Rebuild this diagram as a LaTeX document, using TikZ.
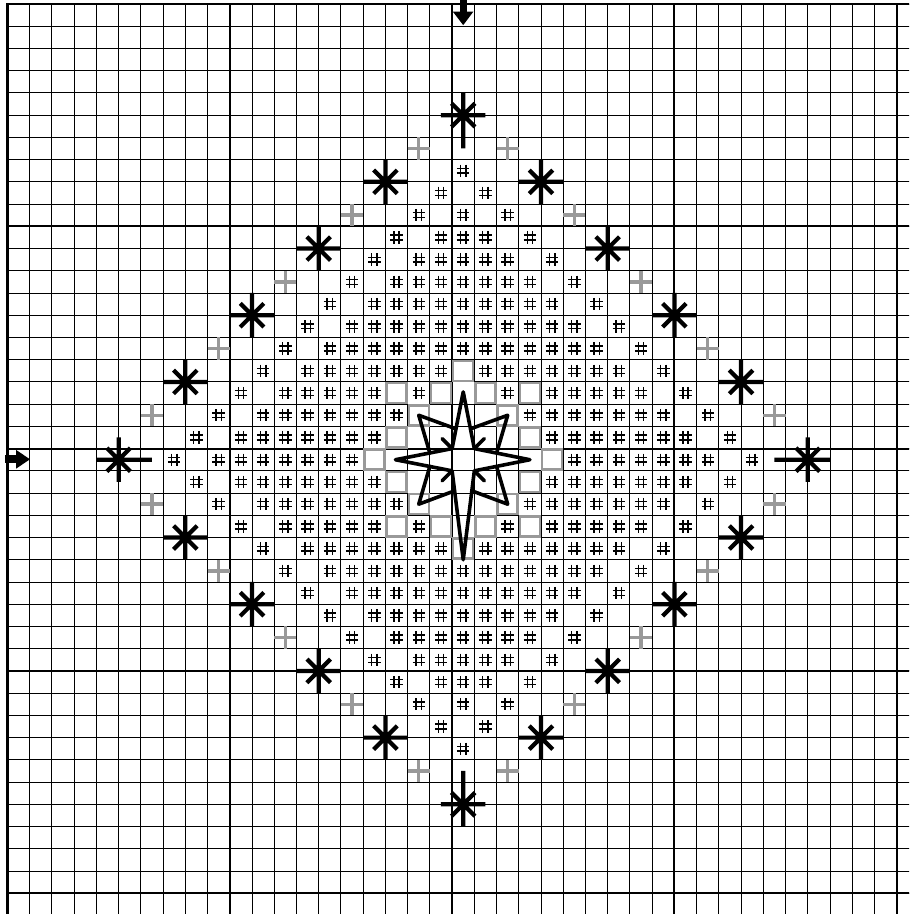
\documentclass[tikz,border=0pt]{standalone}
\usepackage{tikz}

\tikzset{
  thin grid/.style={line width=0.6pt},
  thick grid/.style={line width=1.3pt},
  graybox/.style={gray!80, line width=1.6pt},
  hashcell/.pic={
    \draw[line width=0.9pt] (-0.12,-0.28) -- (-0.12,0.28) (0.12,-0.28) -- (0.12,0.28)
      (-0.28,-0.11) -- (0.28,-0.11) (-0.28,0.11) -- (0.28,0.11);
  },
  halfcross/.pic={
    \draw[gray!80, line width=2.2pt] (-0.5,0) -- (0.5,0) (0,-0.5) -- (0,0.5);
  },
  smyrna/.pic={
    \draw[line width=2.7pt] (-1,0) -- (1,0) (0,-1) -- (0,1)
      (-0.53,-0.53) -- (0.53,0.53) (-0.53,0.53) -- (0.53,-0.53);
  },
  tipsmyrna/.pic={
    \draw[line width=2.7pt] (-1,0) -- (1,0) (0,-1) -- (0,1.5)
      (-0.53,-0.53) -- (0.53,0.53) (-0.53,0.53) -- (0.53,-0.53);
  },
}

\begin{document}
\begin{tikzpicture}[x=0.5cm, y=-0.5cm]
\useasboundingbox (-0.337,-0.18) rectangle (40.554,40.935);
\clip (-0.337,-0.18) rectangle (40.554,40.935);

% Grid
\foreach \i in {0,...,41} {
  \draw[thin grid] (\i,0) -- (\i,41.5);
  \draw[thin grid] (0,\i) -- (41.5,\i);
}
\foreach \i in {10,20,30,40} {
  \draw[thick grid] (\i,0) -- (\i,41.5);
  \draw[thick grid] (0,\i) -- (41.5,\i);
}
\draw[line width=1.9pt] (0,41.5) -- (0,0) -- (41.5,0);

% Centre arrows
\fill (20.36,-0.3) rectangle (20.67,0.36);
\fill (20.03,0.34) -- (20.96,0.34) -- (20.5,0.95) -- cycle;
\fill (-0.1,20.3) rectangle (0.42,20.65);
\fill (0.39,20.06) -- (0.39,20.9) -- (1.01,20.48) -- cycle;

% Hash stitches
\foreach \c in {7,...,33}
  \foreach \r in {7,...,33} {
    \pgfmathtruncatemacro{\d}{abs(\c-20)+abs(\r-20)}
    \pgfmathtruncatemacro{\h}{(\d==13)||((\d>4)&&(\d<12)&&not((abs(\c-20)==3)&&(abs(\r-20)==3)))}
    \ifnum\h=1 \pic at (\c+0.5,\r+0.5) {hashcell}; \fi
  }

% Gray cells round the star
\foreach \c/\r in {20/16,19/17,18/18,17/19,16/20,21/17,22/18,23/19,24/20,23/21,
                   22/22,21/23,20/24,19/23,18/22,17/21,17/17,23/17,17/23,23/23}
  \draw[graybox] (\c+0.05,\r+0.05) rectangle (\c+0.95,\r+0.95);

% Gray crosses on the diamond
\foreach \a/\b in {2/14,5/11,8/8,11/5,14/2}
  \foreach \sx in {-1,1}
    \foreach \sy in {-1,1}
      \pic at (20.5+\sx*\a,20.5+\sy*\b) {halfcross};

% Black star stitches
\foreach \a/\b in {3.5/12.5,6.5/9.5,9.5/6.5,12.5/3.5}
  \foreach \sx in {-1,1}
    \foreach \sy in {-1,1}
      \pic at (20.5+\sx*\a,20.5+\sy*\b) {smyrna};
\foreach \px/\py/\ang in {20.5/5/0,36/20.5/-90,20.5/36/180,5/20.5/90}
  \pic[rotate=\ang] at (\px,\py) {tipsmyrna};

% Star
\begin{scope}[shift={(20.5,20.5)}, line width=2.3pt, line join=round, line cap=round]
  \draw (0,-3.05) -- (-0.5,-0.5) -- (-3.05,0) -- (-0.5,0.5) -- (0,4.5)
    -- (0.5,0.5) -- (3.0,0) -- (0.5,-0.5) -- cycle;
  \draw (-0.33,-1.39) -- (-2,-2) -- (-1.5,-0.3);
  \draw (0.33,-1.39) -- (2,-2) -- (1.5,-0.3);
  \draw (-0.39,1.4) -- (-2,2) -- (-1.5,0.3);
  \draw (0.39,1.4) -- (2,2) -- (1.5,0.3);
  \foreach \sx/\sy in {-1/-1,1/-1,-1/1,1/1}
    \draw (0.55*\sx,0.55*\sy) -- (0.95*\sx,0.95*\sy);
\end{scope}
\end{tikzpicture}
\end{document}
